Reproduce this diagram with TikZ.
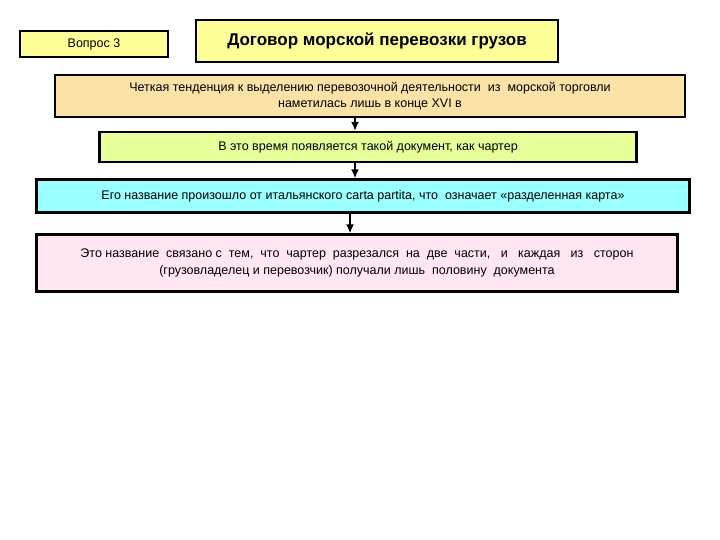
\documentclass[tikz,border=0pt]{standalone}
\usepackage{fontspec}
\usetikzlibrary{arrows.meta}
\setmainfont{Liberation Sans}
\begin{document}
\begin{tikzpicture}[x=1pt,y=-1pt,
  bx/.style={draw=black,line width=2.2pt,inner sep=0pt,align=center,font=\fontsize{12.5}{16.5}\selectfont},
  arr/.style={-{Latex[length=9pt,width=8pt]},line width=2.2pt}]
\useasboundingbox (0,0) rectangle (720,540);
\definecolor{yel}{HTML}{FFFF99}
\definecolor{peach}{HTML}{FBE3A8}
\definecolor{grn}{HTML}{E6FF99}
\definecolor{cyn}{HTML}{99FFFF}
\definecolor{pnk}{HTML}{FFE6F2}
\node[bx,fill=yel,minimum width=148pt,minimum height=26pt] (q) at (94,44) {Вопрос 3};
\node[bx,fill=yel,minimum width=362pt,minimum height=42pt,font=\fontsize{17}{20}\selectfont\bfseries] (t) at (377,41) {Договор морской перевозки грузов};
\node[bx,fill=peach,minimum width=630pt,minimum height=42pt] (a) at (370,96) {Четкая тенденция к выделению перевозочной деятельности \ из \ морской торговли\\наметилась лишь в конце XVI в};
\node[bx,fill=grn,minimum width=537pt,minimum height=30pt] (b) at (368,147) {В это время появляется такой документ, как чартер};
\node[bx,fill=cyn,minimum width=653pt,minimum height=33pt] (c) at (363,196) {Его название произошло от итальянского carta partita, что \ означает «разделенная карта»};
\node[bx,fill=pnk,minimum width=641pt,minimum height=57pt] (d) at (357,263) {Это название \ связано с \ тем, \ что \ чартер \ разрезался \ на \ две \ части, \ \ и \ \ каждая \ \ из \ \ сторон\\(грузовладелец и перевозчик) получали лишь \ половину \ документа};
\draw[arr] (355,117) -- (b.north -| 355,0);
\draw[arr] (355,162) -- (c.north -| 355,0);
\draw[arr] (350,213) -- (d.north -| 350,0);
\end{tikzpicture}
\end{document}
